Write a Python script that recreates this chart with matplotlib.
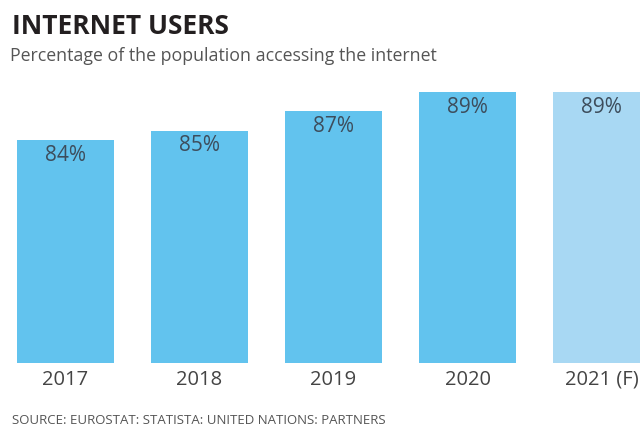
import matplotlib
matplotlib.use("Agg")
import matplotlib.pyplot as plt

years = ["2017", "2018", "2019", "2020", "2021 (F)"]
values = [84, 85, 87, 89, 89]
labels = ["84%", "85%", "87%", "89%", "89%"]
colors = ["#62C3EE", "#62C3EE", "#62C3EE", "#62C3EE", "#A8D8F3"]

W, H = 640, 427
fig = plt.figure(figsize=(W / 100, H / 100), dpi=100)
fig.patch.set_facecolor("white")

# axes spanning full width, from bar baseline (y=364 px) to top
ax = fig.add_axes([0, 1 - 364 / H, 1, 364 / H])
ax.set_facecolor("none")
base = 60.8
k = 9.6  # pixels per unit
ax.set_ylim(base, base + 364 / k)
ax.set_xlim(-65.5 / 134, (640 - 65.5) / 134)

x = list(range(len(years)))
ax.bar(x, [v - base for v in values], bottom=base, width=97 / 134, color=colors)
for xi, v, lab in zip(x, values, labels):
    ax.text(xi, v - 14 / k, lab, ha="center", va="center", fontsize=15,
            color="#3d4d5c", family="Open Sans")
for s in ax.spines.values():
    s.set_visible(False)
ax.set_yticks([])
ax.set_xticks([])

for xi, yr in zip(x, years):
    fig.text((65.5 + 134 * xi) / W, 1 - 380 / H, yr, ha="center", va="center",
             fontsize=14.5, color="#444444", family="Open Sans")

fig.text(12 / W, 1 - 27 / H, "INTERNET USERS", ha="left", va="center",
         fontsize=19, fontweight="bold", color="#231f20", family="Open Sans")
fig.text(10 / W, 1 - 56 / H, "Percentage of the population accessing the internet",
         ha="left", va="center", fontsize=12.8, color="#555555", family="Open Sans")
fig.text(12 / W, 1 - 421 / H, "SOURCE: EUROSTAT: STATISTA: UNITED NATIONS: PARTNERS",
         ha="left", va="center", fontsize=9.5, color="#555555", family="Open Sans")

fig.savefig("out.png", dpi=100, facecolor="white")
